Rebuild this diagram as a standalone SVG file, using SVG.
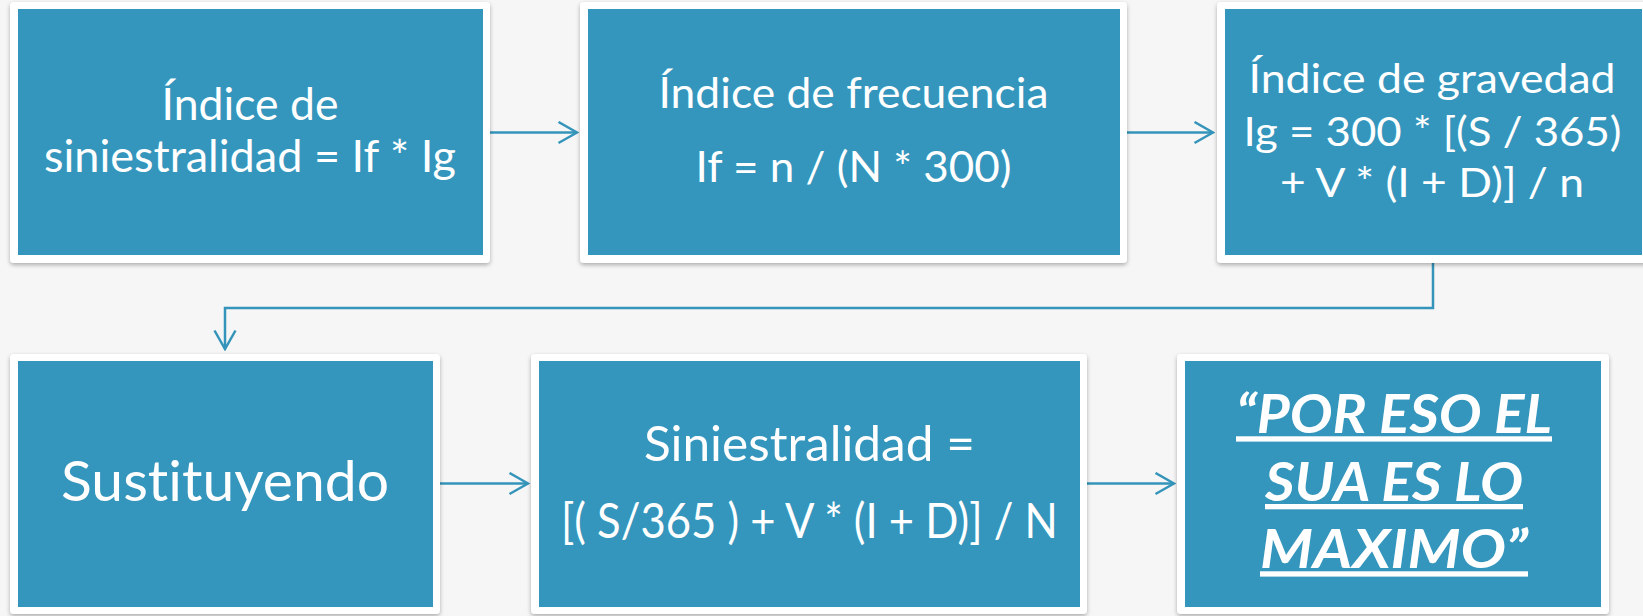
<svg xmlns="http://www.w3.org/2000/svg" width="1643" height="616" viewBox="0 0 1643 616">
  <defs>
    <filter id="sh" x="-5%" y="-5%" width="110%" height="115%">
      <feDropShadow dx="0" dy="2" stdDeviation="2" flood-color="#000" flood-opacity="0.3"/>
    </filter>
    <marker id="arr" viewBox="0 0 22 24" refX="20" refY="12" markerWidth="22" markerHeight="24" markerUnits="userSpaceOnUse" orient="auto">
      <path d="M1.5,1.5 L20,12 L1.5,22.5" fill="none" stroke="#3494BA" stroke-width="2.5"/>
    </marker>
  </defs>
  <style>
    .frame { fill: #FFFFFF; filter: url(#sh); }
    .inner { fill: #3496BD; }
    .t { fill: #FFFFFF; font-family: Lato, "Liberation Sans", sans-serif; text-anchor: middle; font-variant-ligatures: none; }
    .b { font-weight: bold; font-style: italic; text-decoration: underline; }
    .conn { fill: none; stroke: #3494BA; stroke-width: 2.5; marker-end: url(#arr); }
  </style>
  <rect x="0" y="0" width="1643" height="616" fill="#F6F6F6"/>

  <g id="connectors">
    <path class="conn" d="M490,132.5 H577"/>
    <path class="conn" d="M1127,132.5 H1213"/>
    <path class="conn" d="M1433,263 V308 H225 V349"/>
    <path class="conn" d="M440,483.5 H528"/>
    <path class="conn" d="M1087,483.5 H1174"/>
  </g>

  <g id="node-indice-siniestralidad">
    <rect class="frame" x="10" y="2" width="480" height="261" rx="4"/>
    <rect class="inner" x="18" y="9" width="465" height="246"/>
    <text class="t" font-size="44" x="250" y="120" textLength="177" lengthAdjust="spacingAndGlyphs">Índice de</text>
    <text class="t" font-size="44" x="250" y="171.7" textLength="412" lengthAdjust="spacingAndGlyphs">siniestralidad = If * Ig</text>
  </g>

  <g id="node-indice-frecuencia">
    <rect class="frame" x="580" y="2" width="547" height="261" rx="4"/>
    <rect class="inner" x="588" y="9" width="532" height="246"/>
    <text class="t" font-size="42" x="853.5" y="108.3" textLength="390" lengthAdjust="spacingAndGlyphs">Índice de frecuencia</text>
    <text class="t" font-size="42" x="853.5" y="181.7" textLength="316" lengthAdjust="spacingAndGlyphs">If = n / (N * 300)</text>
  </g>

  <g id="node-indice-gravedad">
    <rect class="frame" x="1217" y="2" width="433" height="261" rx="4"/>
    <rect class="inner" x="1225" y="9" width="417" height="246"/>
    <text class="t" font-size="40.5" x="1432" y="93.3" textLength="367" lengthAdjust="spacingAndGlyphs">Índice de gravedad</text>
    <text class="t" font-size="40.5" x="1432.5" y="145.7" textLength="378" lengthAdjust="spacingAndGlyphs">Ig = 300 * [(S / 365)</text>
    <text class="t" font-size="40.5" x="1432" y="197.3" textLength="304" lengthAdjust="spacingAndGlyphs">+ V * (I + D)] / n</text>
  </g>

  <g id="node-sustituyendo">
    <rect class="frame" x="10" y="354" width="430" height="260" rx="4"/>
    <rect class="inner" x="18" y="361" width="415" height="246"/>
    <text class="t" font-size="56" x="225" y="500.7" textLength="328" lengthAdjust="spacingAndGlyphs">Sustituyendo</text>
  </g>

  <g id="node-siniestralidad">
    <rect class="frame" x="531" y="354" width="556" height="260" rx="4"/>
    <rect class="inner" x="539" y="361" width="541" height="246"/>
    <text class="t" font-size="49" x="809.4" y="461" textLength="331" lengthAdjust="spacingAndGlyphs">Siniestralidad =</text>
    <text class="t" font-size="49" x="809.4" y="538.3" textLength="497" lengthAdjust="spacingAndGlyphs">[( S/365 ) + V * (I + D)] / N</text>
  </g>

  <g id="node-sua">
    <rect class="frame" x="1177" y="354" width="432" height="260" rx="4"/>
    <rect class="inner" x="1185" y="361" width="416" height="246"/>
    <text class="t b" font-size="53" x="1394" y="433.3" textLength="316" lengthAdjust="spacingAndGlyphs">“POR ESO EL</text>
    <text class="t b" font-size="53" x="1394" y="501" textLength="258" lengthAdjust="spacingAndGlyphs">SUA ES LO</text>
    <text class="t b" font-size="53" x="1394" y="568.3" textLength="268" lengthAdjust="spacingAndGlyphs">MAXIMO”</text>
  </g>
</svg>
